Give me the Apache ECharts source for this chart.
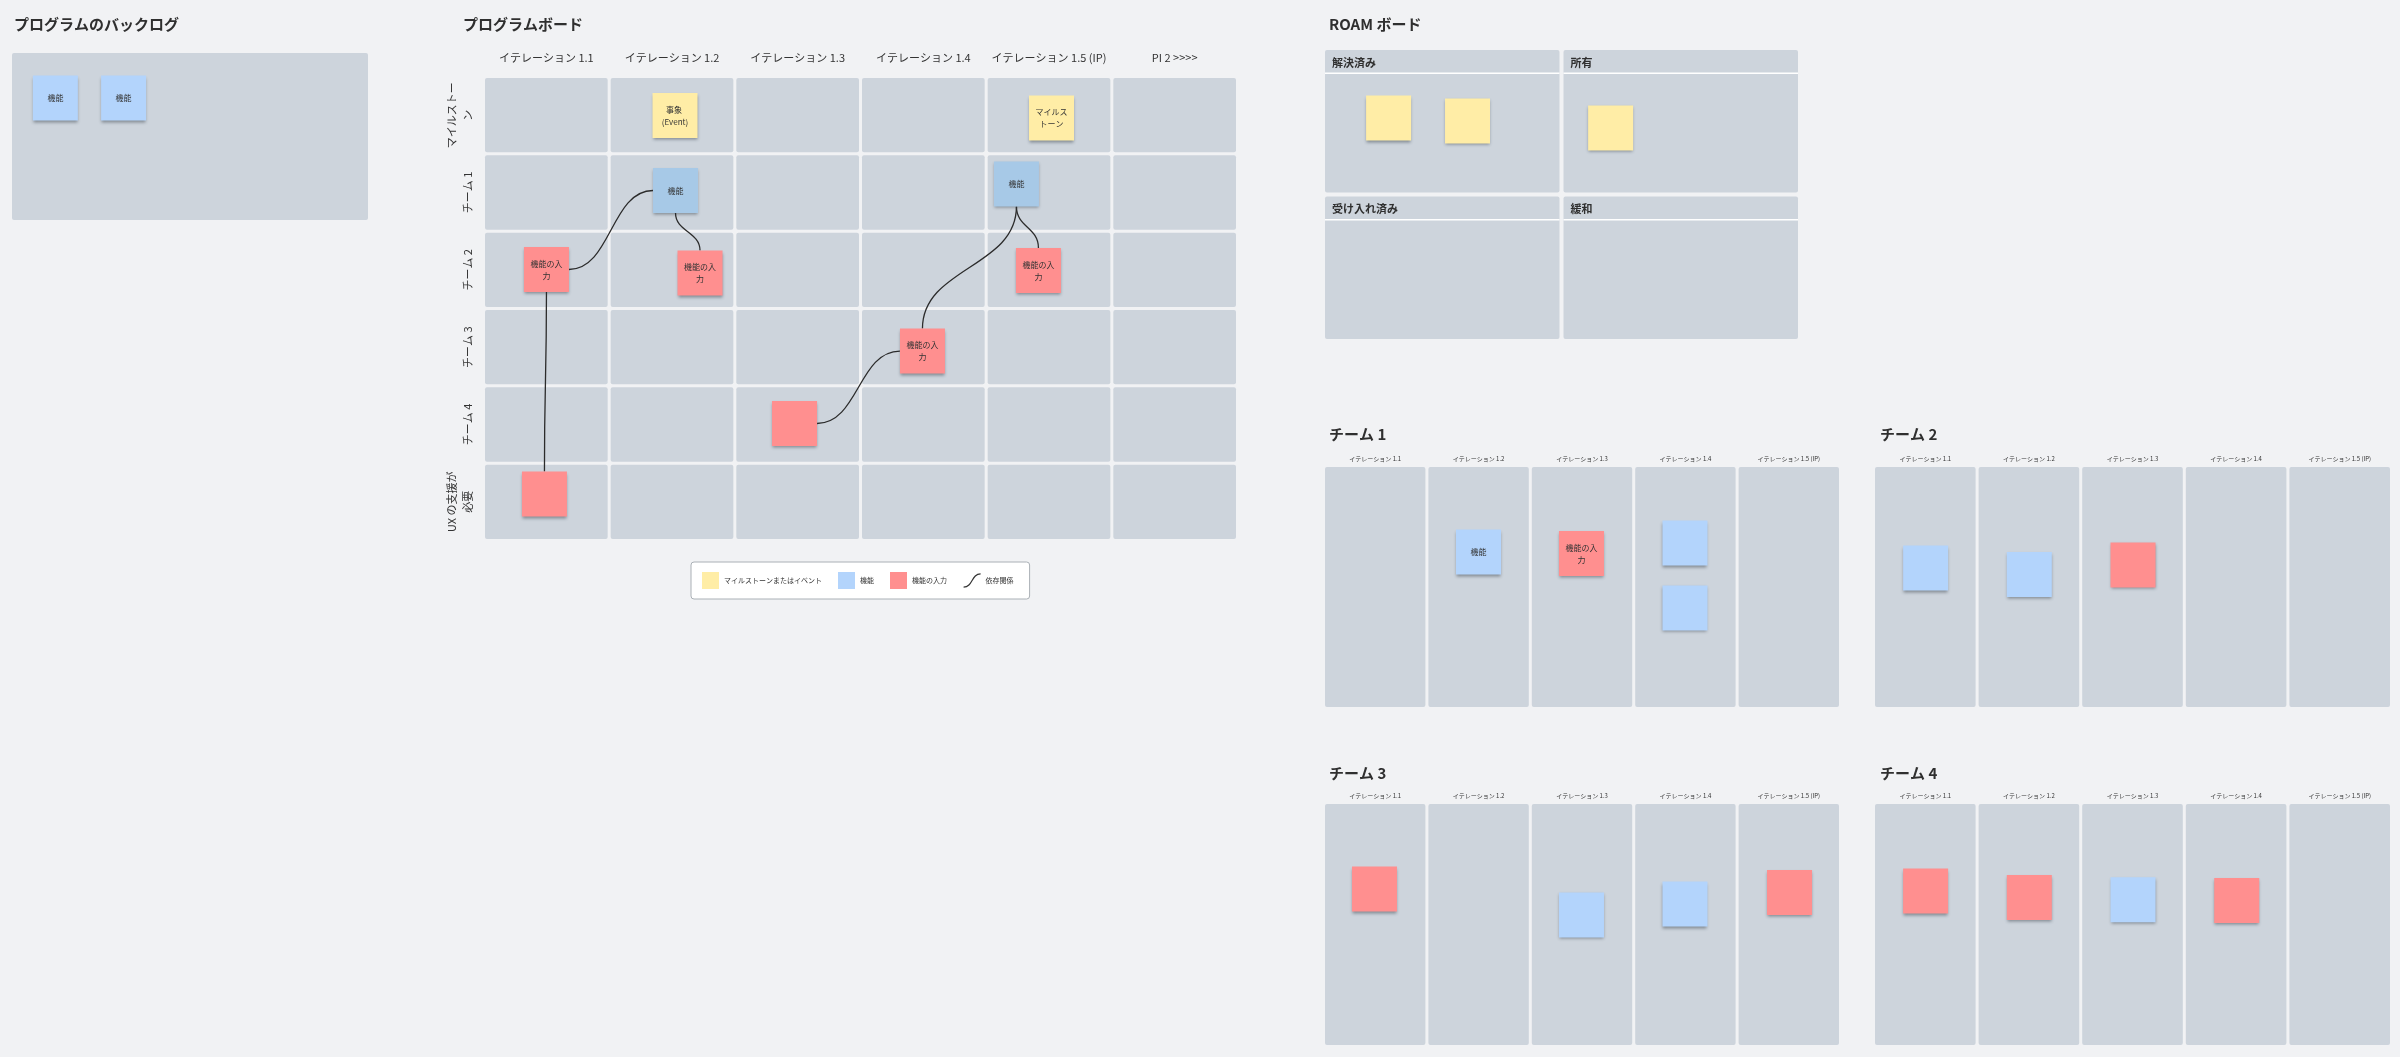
<!DOCTYPE html>
<html lang="ja">
<head>
<meta charset="UTF-8">
<title>PI プランニング ボード</title>
<script src="https://cdn.jsdelivr.net/npm/echarts@6.0.0/dist/echarts.min.js"></script>
<style>
  html, body { margin: 0; padding: 0; background: #f1f2f4; }
  #main { width: 2400px; height: 1057px; }
</style>
</head>
<body>
<div id="main"></div>
<script>
    const FONT = "'Noto Sans CJK JP', 'Noto Sans', sans-serif";
    const PANEL = '#cdd4dc';
    const TEXT = '#333';
    const YELLOW = '#ffeda6';
    const BLUE = '#b3d4fc';
    const BOARD_BLUE = '#a7c9e7';
    const RED = '#ff8f8f';
    const NOTE = 45;

    // ---- data ----
    const iterations = ['イテレーション 1.1', 'イテレーション 1.2', 'イテレーション 1.3', 'イテレーション 1.4', 'イテレーション 1.5 (IP)', 'PI 2 >>>>'];
    const boardRows = ['マイルストーン', 'チーム 1', 'チーム 2', 'チーム 3', 'チーム 4', 'UX の支援が必要'];
    const teamIterations = ['イテレーション 1.1', 'イテレーション 1.2', 'イテレーション 1.3', 'イテレーション 1.4', 'イテレーション 1.5 (IP)'];
    const roamQuadrants = ['解決済み', '所有', '受け入れ済み', '緩和'];

    // notes: [column position, row position, text]
    const backlogFeatures = [[0.125, 0.274, '機能'], [0.315, 0.274, '機能']];
    const boardMilestones = [[1.524, 0.504, '事象 (Event)'], [4.520, 0.537, 'マイルストーン']];
    const boardFeatures = [[1.528, 1.474, '機能'], [4.241, 1.390, '機能']];
    const boardInputs = [
        [0.501, 2.496, '機能の入力'], [1.723, 2.541, '機能の入力'], [4.416, 2.509, '機能の入力'],
        [3.493, 3.550, '機能の入力'], [2.475, 4.487, ''], [0.485, 5.399, '']
    ];
    // from kind, index -> to kind, index, h = side to side, v = bottom to top
    const dependencies = [
        ['input', 0, 'feature', 0, 'h'],
        ['feature', 0, 'input', 1, 'v'],
        ['feature', 1, 'input', 2, 'v'],
        ['feature', 1, 'input', 3, 'v'],
        ['input', 4, 'input', 3, 'h'],
        ['input', 0, 'input', 5, 'v']
    ];
    const roamRisks = [[0.275, 0.478], [0.606, 0.498], [1.206, 0.546]];
    const team1Features = [[1.499, 0.356, '機能'], [3.496, 0.319, ''], [3.496, 0.586, '']];
    const team1Inputs = [[2.495, 0.362, '機能の入力']];
    const team2Features = [[0.503, 0.422, ''], [1.504, 0.449, '']];
    const team2Inputs = [[2.505, 0.409, '']];
    const team3Features = [[2.495, 0.461, ''], [3.496, 0.416, '']];
    const team3Inputs = [[0.493, 0.355, ''], [4.507, 0.369, '']];
    const team4Features = [[2.505, 0.399, '']];
    const team4Inputs = [[0.503, 0.363, ''], [1.504, 0.389, ''], [3.506, 0.402, '']];

    let chart = echarts.init(document.getElementById('main'));

    const noteKinds = { input: boardInputs, feature: boardFeatures };
    const dependencyData = dependencies.map(function (d) {
        let a = noteKinds[d[0]][d[1]];
        let b = noteKinds[d[2]][d[3]];
        return [a[0], a[1], b[0], b[1], d[4] === 'h' ? 0 : 1];
    });

    let boardCells = [];
    iterations.forEach(function (it, c) {
        boardRows.forEach(function (r, j) { boardCells.push([c, j]); });
    });
    let teamCells = teamIterations.map(function (t, c) { return [c, 0]; });
    let roamCells = roamQuadrants.map(function (q, i) { return [i % 2, Math.floor(i / 2)]; });

    function cellBox(api, gap) {
        let p0 = api.coord([api.value(0), api.value(1)]);
        let p1 = api.coord([api.value(0) + 1, api.value(1) + 1]);
        return {
            x: Math.min(p0[0], p1[0]) + gap,
            y: Math.min(p0[1], p1[1]) + gap,
            width: Math.abs(p1[0] - p0[0]) - 2 * gap,
            height: Math.abs(p1[1] - p0[1]) - 2 * gap
        };
    }

    function cells(axis, data, gap) {
        return {
            type: 'custom', name: 'セル', xAxisIndex: axis, yAxisIndex: axis, z: 1, silent: true,
            data: data,
            renderItem: function (params, api) {
                let b = cellBox(api, gap);
                b.r = 2;
                return { type: 'rect', shape: b, style: { fill: PANEL } };
            }
        };
    }

    function notes(name, data, color, axis) {
        return {
            type: 'scatter', name: name, xAxisIndex: axis, yAxisIndex: axis, data: data,
            symbol: 'rect', symbolSize: NOTE, z: 5, silent: true,
            itemStyle: { color: color, opacity: 1, shadowColor: 'rgba(40,50,60,0.45)', shadowBlur: 3, shadowOffsetY: 2 },
            label: {
                show: true, position: 'inside',
                formatter: function (p) { return p.value[2] || ''; },
                fontSize: 8, color: TEXT, lineHeight: 12, width: 36, overflow: 'break', fontFamily: FONT
            },
            emphasis: { disabled: true }
        };
    }

    function hiddenX(gridIndex, max) {
        return { type: 'value', gridIndex: gridIndex, min: 0, max: max, show: false, position: 'bottom' };
    }
    function hiddenY(gridIndex, max) {
        return { type: 'value', gridIndex: gridIndex, min: 0, max: max, show: false, inverse: true, position: 'right' };
    }
    function teamHeader(gridIndex) {
        return {
            type: 'category', gridIndex: gridIndex, position: 'top', data: teamIterations,
            axisLine: { show: false }, axisTick: { show: false }, splitLine: { show: false },
            axisLabel: { interval: 0, margin: 3, fontSize: 6, lineHeight: 8, color: TEXT, fontFamily: FONT }
        };
    }

    const titleStyle = { fontSize: 15, fontWeight: 'bold', color: '#2f2f2f', fontFamily: FONT };

    let option = {
        backgroundColor: '#f1f2f4',
        animation: false,
        title: [
            { text: 'プログラムのバックログ', left: 14, top: 17 },
            { text: 'プログラムボード', left: 463, top: 17 },
            { text: 'ROAM ボード', left: 1329, top: 17 },
            { text: 'チーム 1', left: 1329, top: 427 },
            { text: 'チーム 2', left: 1880, top: 427 },
            { text: 'チーム 3', left: 1329, top: 766 },
            { text: 'チーム 4', left: 1880, top: 766 }
        ].map(function (t) { t.padding = 0; t.textStyle = titleStyle; return t; }),
        legend: {
            left: 691, top: 562,
            padding: [10, 16, 10, 11],
            itemWidth: 17, itemHeight: 17, itemGap: 16,
            backgroundColor: '#fff', borderColor: '#aab0b6', borderWidth: 1, borderRadius: 3,
            selectedMode: false,
            textStyle: { fontSize: 7, color: TEXT, fontFamily: FONT },
            data: [
                { name: 'マイルストーンまたはイベント', icon: 'rect', itemStyle: { color: YELLOW, opacity: 1 } },
                { name: '機能', icon: 'rect', itemStyle: { color: BLUE, opacity: 1 } },
                { name: '機能の入力', icon: 'rect', itemStyle: { color: RED, opacity: 1 } },
                { name: '依存関係', icon: 'path://M0,14C10,14 8,0 18,0',
                  itemStyle: { color: 'rgba(0,0,0,0)', borderColor: '#333', borderWidth: 1.2 } }
            ]
        },
        grid: [
            { left: 10.5, top: 51.5, width: 359, height: 170 },
            { left: 483.5, top: 76.5, width: 754, height: 464 },
            { left: 1323, top: 48, width: 477, height: 293 },
            { left: 1323.5, top: 465.5, width: 517, height: 243 },
            { left: 1873.5, top: 465.5, width: 518, height: 243 },
            { left: 1323.5, top: 802.5, width: 517, height: 244 },
            { left: 1873.5, top: 802.5, width: 518, height: 244 }
        ].map(function (g) { g.outerBoundsMode = 'none'; return g; }),
        xAxis: [
            hiddenX(0, 1), hiddenX(1, iterations.length), hiddenX(2, 2),
            hiddenX(3, 5), hiddenX(4, 5), hiddenX(5, 5), hiddenX(6, 5),
            {
                type: 'category', gridIndex: 1, position: 'top', data: iterations,
                axisLine: { show: false }, axisTick: { show: false }, splitLine: { show: false },
                axisLabel: { interval: 0, margin: 12, fontSize: 11, lineHeight: 14, color: TEXT, fontFamily: FONT }
            },
            teamHeader(3), teamHeader(4), teamHeader(5), teamHeader(6)
        ],
        yAxis: [
            hiddenY(0, 1), hiddenY(1, boardRows.length), hiddenY(2, 2),
            hiddenY(3, 1), hiddenY(4, 1), hiddenY(5, 1), hiddenY(6, 1),
            {
                type: 'category', gridIndex: 1, position: 'left', inverse: true, data: boardRows,
                axisLine: { show: false }, axisTick: { show: false }, splitLine: { show: false },
                axisLabel: {
                    interval: 0, rotate: 90, margin: 8, fontSize: 11, lineHeight: 16,
                    width: 70, overflow: 'break', color: TEXT, fontFamily: FONT
                }
            }
        ],
        series: [
            cells(0, [[0, 0]], 1.5),
            cells(1, boardCells, 1.5),
            {
                type: 'custom', name: 'ROAM', xAxisIndex: 2, yAxisIndex: 2, z: 1, silent: true,
                data: roamCells,
                renderItem: function (params, api) {
                    let b = cellBox(api, 2);
                    return {
                        type: 'group',
                        children: [
                            { type: 'rect', shape: { x: b.x, y: b.y, width: b.width, height: b.height, r: 2 }, style: { fill: PANEL } },
                            { type: 'rect', shape: { x: b.x, y: b.y + 22.5, width: b.width, height: 1.5 }, style: { fill: '#fff' } },
                            {
                                type: 'text',
                                style: {
                                    text: roamQuadrants[params.dataIndex], x: b.x + 7, y: b.y + 12.5,
                                    fill: '#2f2f2f', fontSize: 11, fontWeight: 'bold', fontFamily: FONT,
                                    verticalAlign: 'middle'
                                }
                            }
                        ]
                    };
                }
            },
            cells(3, teamCells, 1.5),
            cells(4, teamCells, 1.5),
            cells(5, teamCells, 1.5),
            cells(6, teamCells, 1.5),
            {
                type: 'custom', name: '依存関係', xAxisIndex: 1, yAxisIndex: 1, z: 4, silent: true,
                data: dependencyData,
                encode: { x: [0, 2], y: [1, 3] },
                renderItem: function (params, api) {
                    let a = api.coord([api.value(0), api.value(1)]);
                    let b = api.coord([api.value(2), api.value(3)]);
                    let h = NOTE / 2;
                    let s, e, c1, c2, m;
                    if (api.value(4) === 0) {
                        let dir = b[0] > a[0] ? 1 : -1;
                        s = [a[0] + dir * h, a[1]];
                        e = [b[0] - dir * h, b[1]];
                        m = (e[0] - s[0]) / 2;
                        c1 = [s[0] + m, s[1]];
                        c2 = [e[0] - m, e[1]];
                    } else {
                        s = [a[0], a[1] + h];
                        e = [b[0], b[1] - h];
                        m = (e[1] - s[1]) / 2;
                        c1 = [s[0], s[1] + m];
                        c2 = [e[0], e[1] - m];
                    }
                    return {
                        type: 'bezierCurve',
                        shape: { x1: s[0], y1: s[1], x2: e[0], y2: e[1], cpx1: c1[0], cpy1: c1[1], cpx2: c2[0], cpy2: c2[1] },
                        style: { stroke: '#2b2b2b', lineWidth: 1.3, fill: null }
                    };
                }
            },
            notes('機能', backlogFeatures, BLUE, 0),
            notes('マイルストーンまたはイベント', boardMilestones, YELLOW, 1),
            notes('機能', boardFeatures, BOARD_BLUE, 1),
            notes('機能の入力', boardInputs, RED, 1),
            notes('リスク', roamRisks, YELLOW, 2),
            notes('機能', team1Features, BLUE, 3),
            notes('機能の入力', team1Inputs, RED, 3),
            notes('機能', team2Features, BLUE, 4),
            notes('機能の入力', team2Inputs, RED, 4),
            notes('機能', team3Features, BLUE, 5),
            notes('機能の入力', team3Inputs, RED, 5),
            notes('機能', team4Features, BLUE, 6),
            notes('機能の入力', team4Inputs, RED, 6)
        ]
    };

    chart.setOption(option);
</script>
</body>
</html>
